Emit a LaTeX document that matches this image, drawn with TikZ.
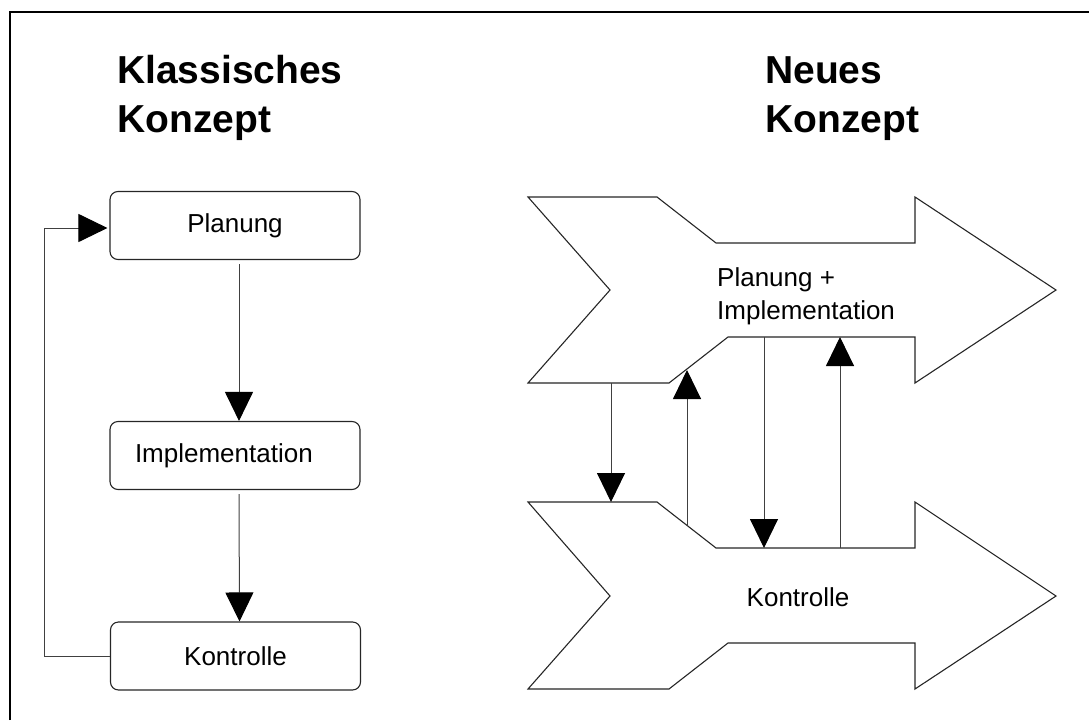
\documentclass[tikz,border=0pt]{standalone}
\usepackage{fontspec}
\setmainfont{Liberation Sans}
\usetikzlibrary{arrows.meta}
\begin{document}
\begin{tikzpicture}[x=1pt,y=-1pt,
  box/.style={draw=black!85, line width=1.1pt, rounded corners=8pt, minimum width=250pt, minimum height=68pt, inner sep=0pt, font=\fontsize{26}{31}\selectfont},
  title/.style={anchor=base west, inner sep=0pt, font=\fontsize{39}{47}\selectfont\bfseries},
  lbl/.style={inner sep=0pt, font=\fontsize{26}{33}\selectfont},
  arr/.style={draw=black!75, line width=1pt, -{Triangle[length=29pt,width=28pt,fill=black,color=black]}},
  bigarrow/.style={draw=black!85, line width=1.1pt, fill=white, line join=miter}]
\useasboundingbox (0,0) rectangle (1089,720);
\draw[line width=2.5pt] (10,720) -- (10,12) -- (1089,12);

% titles
\node[title] (t1a) at (117,83) {Klassisches};
\node[title] (t1b) at (117,132) {Konzept};
\node[title] (t2a) at (765,83) {Neues};
\node[title] (t2b) at (765,132) {Konzept};

% classic concept
\node[box] (plan) at (235,225.5) {Planung};
\node[box, text width=200pt, inner xsep=25pt, align=left] (impl) at (235,455.5) {Implementation};
\node[box] (kon)  at (235.5,656) {Kontrolle};

\draw[arr] ([xshift=4pt,yshift=-4pt]plan.south) -- ([xshift=4pt]impl.north);
\draw[arr] ([xshift=4pt,yshift=-4pt]impl.south) -- ([xshift=4pt]kon.north);
\coordinate (fb) at (44,656);
\draw[arr] (kon.west) -- (fb) |- ([xshift=-2pt,yshift=-2.5pt]plan.west);

% new concept: two big arrows
\draw[bigarrow] (528,197) -- (657,197) -- (716,243) -- (915,243) -- (915,197) -- (1056,290)
  -- (915,383) -- (915,337) -- (728,337) -- (669,383) -- (528,383) -- (610,290) -- cycle;
\draw[bigarrow] (528,502) -- (657,502) -- (716,548) -- (915,548) -- (915,502) -- (1056,596)
  -- (915,689) -- (915,643) -- (728,643) -- (669,689) -- (528,689) -- (610,596) -- cycle;

\node[lbl, anchor=base west, align=left] (pi) at (717,319) {Planung +\\Implementation};
\node[lbl, anchor=base] (k2) at (798,606) {Kontrolle};

% connectors between the big arrows
\coordinate (a1s) at (611,383); \coordinate (a1e) at (611,502);
\coordinate (a2s) at (687,525); \coordinate (a2e) at (687,370);
\coordinate (a3s) at (764,337); \coordinate (a3e) at (764,548);
\coordinate (a4s) at (840,548); \coordinate (a4e) at (840,337);
\draw[arr] (a1s) -- (a1e);
\draw[arr] (a2s) -- (a2e);
\draw[arr] (a3s) -- (a3e);
\draw[arr] (a4s) -- (a4e);
\end{tikzpicture}
\end{document}
